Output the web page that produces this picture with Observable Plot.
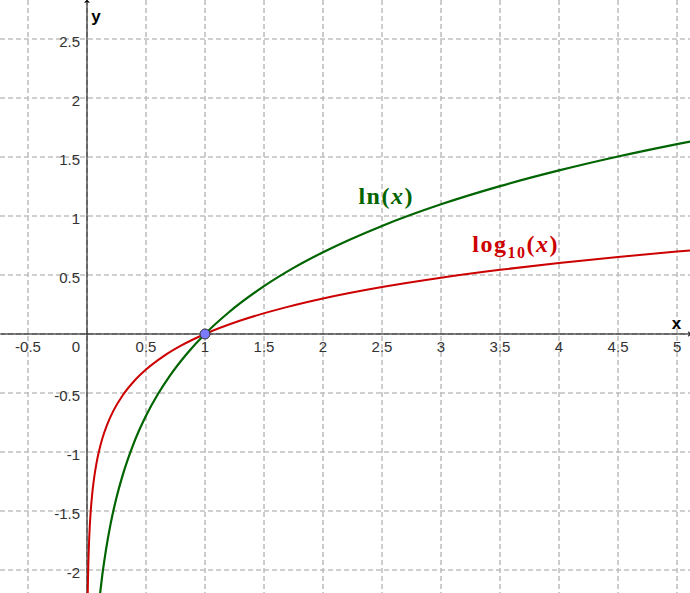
<!DOCTYPE html>
<html><head><meta charset="utf-8">
<script src="https://cdn.jsdelivr.net/npm/d3@7"></script>
<script src="https://cdn.jsdelivr.net/npm/@observablehq/plot@0.6"></script>
<style>body{margin:0;background:#fff}</style>
</head><body><div id="chart"></div>
<script>
// ln(x)
const lnX = [0.11,0.13,0.16,0.2,0.25,0.3,0.4,0.5,0.6,0.7,0.85,1,1.2,1.5,1.75,2,2.5,3,3.5,4,4.5,5,5.12];
const lnY = [-2.207,-2.040,-1.833,-1.609,-1.386,-1.204,-0.916,-0.693,-0.511,-0.357,-0.163,0,0.182,0.405,0.560,0.693,0.916,1.099,1.253,1.386,1.504,1.609,1.633];
// log10(x)
const logX = [0.0063,0.0075,0.009,0.011,0.014,0.018,0.024,0.032,0.045,0.06,0.08,0.1,0.13,0.17,0.22,0.3,0.4,0.5,0.65,0.8,1,1.3,1.7,2,2.5,3,3.5,4,4.5,5,5.12];
const logY = [-2.2,-2.125,-2.046,-1.959,-1.854,-1.745,-1.620,-1.495,-1.347,-1.222,-1.097,-1,-0.886,-0.770,-0.658,-0.523,-0.398,-0.301,-0.187,-0.097,0,0.114,0.230,0.301,0.398,0.477,0.544,0.602,0.653,0.699,0.709];
const xTicks = [-0.5,0.5,1,1.5,2,2.5,3,3.5,4,4.5,5];
const xTickLabels = ["-0.5","0.5","1","1.5","2","2.5","3","3.5","4","4.5","5"];
const yTicks = [-2,-1.5,-1,-0.5,0.5,1,1.5,2,2.5];
const yTickLabels = ["-2","-1.5","-1","-0.5","0.5","1","1.5","2","2.5"];
const gridX = [-0.5,0,0.5,1,1.5,2,2.5,3,3.5,4,4.5,5];
const gridY = [-2,-1.5,-1,-0.5,0,0.5,1,1.5,2,2.5];
const pointX = [1];
const pointY = [0];
const curveLabels = ["ln(x)", "log10(x)"];
const labelX = [2.30, 3.265];
const labelY = [1.165, 0.76];
const labelColors = ["#006400", "#cc0000"];

const xDom = [-0.733, 5.114];
const yDom = [-2.199, 2.826];

const lnData = lnX.map((x, i) => ({x, y: lnY[i]}));
const logData = logX.map((x, i) => ({x, y: logY[i]}));
const labels = curveLabels.map((t, i) => ({t, x: labelX[i], y: labelY[i], c: labelColors[i]}));
const font = "'Liberation Sans', Arial, sans-serif";

const plot = Plot.plot({
  width: 690, height: 593,
  margin: 0,
  x: {domain: xDom, axis: null},
  y: {domain: yDom, axis: null},
  style: {background: "#fff", overflow: "visible"},
  marks: [
    Plot.ruleX(gridX, {x: d => d, stroke: "#c0c0c0", strokeWidth: 1.6, strokeDasharray: "5,3"}),
    Plot.ruleY(gridY, {y: d => d, stroke: "#c0c0c0", strokeWidth: 1.6, strokeDasharray: "5,3"}),
    Plot.link([0], {x1: xDom[0], x2: 5.105, y1: 0, y2: 0, stroke: "#000", strokeWidth: 1, markerEnd: "arrow"}),
    Plot.link([0], {x1: 0, x2: 0, y1: yDom[0], y2: 2.818, stroke: "#000", strokeWidth: 1, markerEnd: "arrow"}),
    Plot.text(xTicks, {x: d => d, y: 0, text: (d, i) => xTickLabels[i], dy: 13, fontSize: 15, fontFamily: font, fill: "#333"}),
    Plot.text(["0"], {x: 0, y: 0, text: d => d, dx: -11, dy: 13, fontSize: 15, fontFamily: font, fill: "#333"}),
    Plot.text(yTicks, {x: 0, y: d => d, text: (d, i) => yTickLabels[i], dx: -7, dy: 3, textAnchor: "end", fontSize: 15, fontFamily: font, fill: "#333"}),
    Plot.text(["x"], {x: 4.996, y: 0, text: d => d, dy: -10, fontSize: 17, fontWeight: "bold", fontFamily: font, fill: "#000"}),
    Plot.text(["y"], {x: 0, y: 2.826, text: d => d, dx: 9, dy: 16, fontSize: 17, fontWeight: "bold", fontFamily: font, fill: "#000"}),
    Plot.line(logData, {x: "x", y: "y", stroke: "#cc0000", strokeWidth: 2, curve: "monotone-x"}),
    Plot.line(lnData, {x: "x", y: "y", stroke: "#006400", strokeWidth: 2.2, curve: "monotone-x"}),
    Plot.dot(pointX, {x: d => d, y: (d, i) => pointY[i], r: 5, fill: "#7b7bff", stroke: "#333", strokeWidth: 1}),
    Plot.text(labels, {x: "x", y: "y", text: "t", fill: "c", textAnchor: "start", fontSize: 24, fontWeight: "bold", fontFamily: "'Liberation Serif', 'Times New Roman', serif"})
  ]
});
document.getElementById("chart").appendChild(plot);

// rich formatting of the curve labels (italic x, subscript 10)
d3.select(plot).selectAll("text").each(function() {
  const el = d3.select(this);
  const t = this.textContent;
  if (t === "ln(x)") {
    el.text(null).attr("letter-spacing", 1.5);
    el.append("tspan").text("ln(");
    el.append("tspan").attr("font-style", "italic").text("x");
    el.append("tspan").text(")");
  } else if (t === "log10(x)") {
    el.text(null).attr("letter-spacing", 1.5);
    el.append("tspan").text("log");
    el.append("tspan").attr("font-size", 16).attr("dy", 6).text("10");
    el.append("tspan").attr("dy", -6).text("(");
    el.append("tspan").attr("font-style", "italic").text("x");
    el.append("tspan").text(")");
  }
});
</script>
</body></html>
